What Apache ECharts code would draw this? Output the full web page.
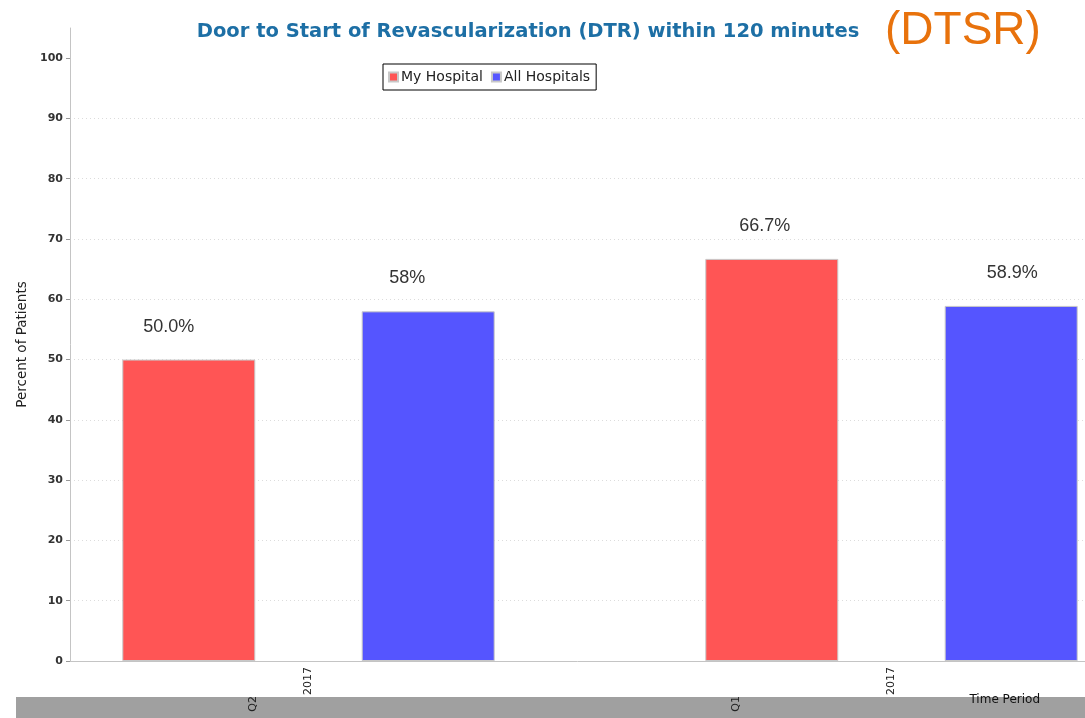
<!DOCTYPE html>
<html>
<head>
<meta charset="utf-8">
<script src="https://cdn.jsdelivr.net/npm/echarts@6/dist/echarts.min.js"></script>
<style>
  html, body { margin: 0; padding: 0; background: #fff; }
  #chart { width: 1085px; height: 718px; }
</style>
</head>
<body>
<div id="chart"></div>
<script>
// Reporting periods and their rate values
const years = ['2017', '2017'];
const quarters = ['Q2', 'Q1'];
const myHospital = [50.0, 66.7];
const allHospitals = [58, 58.9];
const yTicks = [0, 10, 20, 30, 40, 50, 60, 70, 80, 90, 100];

const titleText = 'Door to Start of Revascularization (DTR) within 120 minutes';
const tagText = '(DTSR)';
const yName = 'Percent of Patients';
const xName = 'Time Period';

// horizontal nudges for the value labels (px), per bar
const myLabelShift = [-20, -7];
const allLabelShift = [-21, 1];

const chart = echarts.init(document.getElementById('chart'), null, { renderer: 'canvas' });

const axisGray = '#c4c4c4';
const uiFont = 'DejaVu Sans';

const withShift = (values, shifts) =>
  values.map((v, i) => ({ value: v, label: { offset: [shifts[i], 0] } }));

const valueLabel = fmt => ({
  show: true, position: 'top', distance: 24,
  fontFamily: 'Liberation Sans', fontSize: 18, color: '#333',
  formatter: fmt
});

chart.setOption({
  animation: false,
  backgroundColor: '#ffffff',
  title: [{
    text: titleText,
    left: 523, top: 17, textAlign: 'center',
    textStyle: { fontFamily: uiFont, fontSize: 19.5, fontWeight: 'bold', color: '#1d6fa5' }
  }, {
    text: tagText,
    left: 880, top: 3,
    textStyle: { fontFamily: 'Liberation Sans', fontSize: 46, fontWeight: 'normal', color: '#e8720c' }
  }],
  legend: {
    left: 383, top: 64,
    orient: 'horizontal',
    padding: [6, 6, 6, 5],
    borderColor: '#000', borderWidth: 1, borderRadius: 0,
    itemWidth: 9, itemHeight: 9, itemGap: 8,
    icon: 'rect',
    textStyle: { fontFamily: uiFont, fontSize: 14, color: '#222', padding: [0, 0, 0, -2] },
    data: ['My Hospital', 'All Hospitals']
  },
  grid: [
    // frame grid: axes, ticks and gridlines
    { left: 70, right: 0, top: 28, bottom: 57, outerBoundsMode: 'none' },
    // bar grid: wider band so the category groups sit where the periods fall
    { left: 17, width: 1166, top: 28, bottom: 57, outerBoundsMode: 'none' }
  ],
  xAxis: [{
    gridIndex: 0, type: 'category', data: [''],
    axisLine: { lineStyle: { color: axisGray, width: 1 } },
    axisTick: { show: false }, axisLabel: { show: false }, splitLine: { show: false }
  }, {
    gridIndex: 1, type: 'category', data: years, position: 'bottom', z: 20,
    axisLine: { show: false }, axisTick: { show: false }, splitLine: { show: false },
    axisLabel: { rotate: 90, margin: 6, fontFamily: uiFont, fontSize: 11, color: '#222' }
  }, {
    gridIndex: 1, type: 'category', data: quarters, position: 'bottom', offset: 0, z: 20,
    axisLine: { show: false }, axisTick: { show: false }, splitLine: { show: false },
    axisLabel: {
      rotate: 90, margin: 35, fontFamily: uiFont, fontSize: 11, color: '#222',
      formatter: (v, i) => '{p' + i + '|' + v + '}',
      rich: {
        p0: { fontFamily: uiFont, fontSize: 11, color: '#222', padding: [0, 0, 110, 0] },
        p1: { fontFamily: uiFont, fontSize: 11, color: '#222', padding: [0, 0, 310, 0] }
      }
    }
  }],
  yAxis: [{
    gridIndex: 0, type: 'value', min: 0, max: 105,
    name: yName, nameLocation: 'middle', nameGap: 38,
    nameTextStyle: { fontFamily: uiFont, fontSize: 13.5, color: '#222' },
    axisLine: { show: true, lineStyle: { color: axisGray, width: 1 } },
    axisTick: { show: true, length: 4, customValues: yTicks, lineStyle: { color: '#999' } },
    axisLabel: { customValues: yTicks, margin: 7, fontFamily: uiFont, fontSize: 11, fontWeight: 'bold', color: '#333' },
    splitLine: { show: true, showMaxLine: false, lineStyle: { color: '#dcdcdc', type: [1, 3], width: 1 } }
  }, {
    gridIndex: 1, type: 'value', min: 0, max: 105, show: false,
    splitLine: { show: false }
  }],
  graphic: [{
    type: 'rect', z: -10, silent: true,
    shape: { x: 16, y: 697, width: 1069, height: 21 },
    style: { fill: '#a0a0a0' }
  }, {
    type: 'text', z: 10, silent: true,
    x: 1040, y: 700,
    style: { text: xName, fontFamily: uiFont, fontSize: 12, fill: '#111', align: 'right', verticalAlign: 'middle' }
  }],
  series: [{
    name: 'My Hospital', type: 'bar', xAxisIndex: 1, yAxisIndex: 1,
    data: withShift(myHospital, myLabelShift), barWidth: 133, barGap: '80%',
    itemStyle: { color: '#ff5555', borderColor: '#c8c8c8', borderWidth: 1 },
    label: valueLabel(p => p.value.toFixed(1) + '%')
  }, {
    name: 'All Hospitals', type: 'bar', xAxisIndex: 1, yAxisIndex: 1,
    data: withShift(allHospitals, allLabelShift), barWidth: 133, barGap: '80%',
    itemStyle: { color: '#5555ff', borderColor: '#c8c8c8', borderWidth: 1 },
    label: valueLabel(p => p.value + '%')
  }]
});
</script>
</body>
</html>
